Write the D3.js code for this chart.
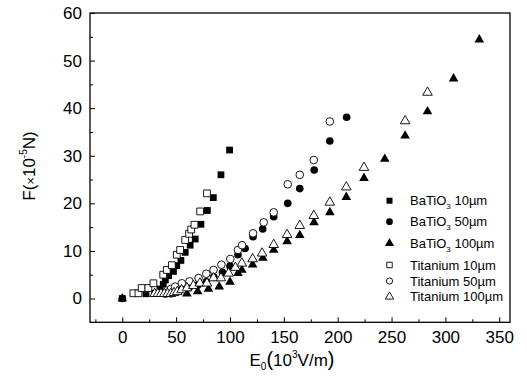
<!DOCTYPE html>
<html><head><meta charset="utf-8">
<script src="https://cdn.jsdelivr.net/npm/d3@7"></script>
<style>body{margin:0;background:#fff;} svg{display:block;font-family:Arial,"Liberation Sans",sans-serif;}</style>
</head><body>
<svg id="c" width="527" height="388"></svg>
<script>
// ---- data ----
const xMajorTicks = [0, 50, 100, 150, 200, 250, 300, 350];
const yMajorTicks = [0, 10, 20, 30, 40, 50, 60];

const ba10X = [0, 22, 30, 35, 38, 40, 43, 47.5, 50.6, 54.4, 58.4, 63, 67.7, 73, 79, 84.5, 91.6, 99.6];
const ba10F = [0, 1, 1.1, 2, 3, 3.9, 4.8, 5.7, 6.9, 8, 9.7, 11.2, 12.5, 15.6, 18.5, 21.2, 26, 31.2];

const ba50X = [0, 45, 55, 62, 70, 78, 85, 93, 100, 107.4, 114, 121.4, 130.4, 140.6, 153.6, 164.8, 178.2, 192.7, 208.3];
const ba50F = [0, 1, 2, 2.3, 2.8, 3.5, 4.5, 5.5, 6.8, 9.2, 10.5, 13, 14.6, 17.2, 20, 23.1, 27, 33.1, 38.1];

const ba100X = [0, 60, 70, 80, 90, 100, 107.4, 111, 121, 130.5, 140.6, 153, 164.8, 178, 192.7, 208, 224.4, 243.7, 262.6, 283.4, 307.6, 331.5];
const ba100F = [0, 1, 1.5, 2, 2.5, 3.5, 5.3, 6, 7.1, 8.5, 10.2, 12, 13.3, 16, 18.1, 21.3, 25.3, 29.3, 34.2, 39.3, 46.2, 54.4];

const ti10X = [10.3, 15, 18, 24.2, 28.9, 38, 41.3, 46, 50.6, 53.7, 58.4, 62, 64, 67, 72.3, 78.6];
const ti10F = [1.1, 1.1, 2.2, 2.2, 3.2, 5, 6, 7, 9.2, 10.2, 12.3, 13.6, 14.5, 15.5, 18.3, 22.1];

const ti50X = [40, 45, 49, 55.3, 62.4, 70.8, 78, 84.7, 92, 100.3, 107.4, 111.2, 121.4, 131.3, 140.6, 153.6, 164.8, 177.8, 192.7];
const ti50F = [1, 2, 2.5, 3.2, 3.6, 4.3, 5.2, 6, 7.1, 8.3, 10.2, 11.2, 13.7, 16, 18.1, 24, 26, 29.1, 37.2];

const ti100X = [30, 33, 36, 39, 42, 45, 48, 51, 55, 60, 66, 72, 78.6, 84.7, 91.6, 98.7, 105, 111, 121, 129.8, 140.6, 153, 164.8, 177.8, 192.7, 208, 224.4, 262.6, 283.4];
const ti100F = [1, 1, 1, 1, 1, 1, 1.2, 1.4, 1.8, 2.2, 2.7, 3.2, 3.2, 4.3, 4.3, 5.3, 6.5, 7.4, 8.3, 9.5, 11.3, 13.4, 15.3, 17.4, 20.2, 23.4, 27.5, 37.3, 43.3];

const seriesNames = ["BaTiO3 10µm", "BaTiO3 50µm", "BaTiO3 100µm", "Titanium 10µm", "Titanium 50µm", "Titanium 100µm"];

// ---- chart ----
const svg = d3.select("#c");
const x = d3.scaleLinear().domain([-30, 360]).range([90, 510]);
const y = d3.scaleLinear().domain([-5, 60]).range([322.3, 13]);

const series = [
  {xs: ba10X, fs: ba10F, shape: "square", filled: true},
  {xs: ba50X, fs: ba50F, shape: "circle", filled: true},
  {xs: ba100X, fs: ba100F, shape: "triangle", filled: true},
  {xs: ti10X, fs: ti10F, shape: "square", filled: false},
  {xs: ti50X, fs: ti50F, shape: "circle", filled: false},
  {xs: ti100X, fs: ti100F, shape: "triangle", filled: false}
];
const symType = {square: d3.symbolSquare, circle: d3.symbolCircle, triangle: d3.symbolTriangle};
const symSize = {square: 46, circle: 46, triangle: 40};

// axes (ticks inward)
const gx = svg.append("g").attr("transform", "translate(0,322.3)")
  .call(d3.axisBottom(x).tickValues(xMajorTicks).tickSizeInner(-5).tickSizeOuter(0).tickPadding(9));
const gxm = svg.append("g").attr("transform", "translate(0,322.3)")
  .call(d3.axisBottom(x).tickValues(d3.range(-25, 360, 50)).tickSizeInner(-3).tickSizeOuter(0).tickFormat(""));
const gy = svg.append("g").attr("transform", "translate(90,0)")
  .call(d3.axisLeft(y).tickValues(yMajorTicks).tickSizeInner(-5).tickSizeOuter(0).tickPadding(8));
const gym = svg.append("g").attr("transform", "translate(90,0)")
  .call(d3.axisLeft(y).tickValues(d3.range(5, 60, 10)).tickSizeInner(-3).tickSizeOuter(0).tickFormat(""));
[gx, gxm, gy, gym].forEach(g => {
  g.select(".domain").remove();
  g.selectAll("line").attr("stroke", "#000").attr("stroke-width", 1);
  g.selectAll("text").attr("font-size", 17).attr("fill", "#000").attr("font-family", "Arial, 'Liberation Sans', sans-serif");
});

// frame
svg.append("rect").attr("x", 90).attr("y", 13).attr("width", 420).attr("height", 309.3)
  .attr("fill", "none").attr("stroke", "#000").attr("stroke-width", 1.3);

// markers: filled first, open on top
const plot = svg.append("g");
series.forEach(s => {
  const pts = s.xs.map((v, i) => [v, s.fs[i]]);
  plot.append("g").selectAll("path").data(pts).enter().append("path")
    .attr("d", d3.symbol().type(symType[s.shape]).size(symSize[s.shape]))
    .attr("transform", d => `translate(${x(d[0])},${y(d[1])})`)
    .attr("fill", s.filled ? "#000" : "#fff")
    .attr("stroke", "#000").attr("stroke-width", s.filled ? 0 : 0.9);
});

// legend
const legY = [200.7, 221.7, 243.3, 265, 281, 296.7];
const leg = svg.append("g");
series.forEach((s, i) => {
  leg.append("path")
    .attr("d", d3.symbol().type(symType[s.shape]).size(s.filled ? 36 : 30))
    .attr("transform", `translate(389.5,${legY[i]})`)
    .attr("fill", s.filled ? "#000" : "#fff")
    .attr("stroke", "#000").attr("stroke-width", s.filled ? 0 : 0.9);
  const t = leg.append("text").attr("x", 410).attr("y", legY[i] + 4.5)
    .attr("font-size", 13).attr("fill", "#000");
  const name = seriesNames[i];
  if (name.startsWith("BaTiO3")) {
    t.append("tspan").text("BaTiO");
    t.append("tspan").attr("font-size", 8).attr("dy", 4).text("3");
    t.append("tspan").attr("dy", -4).text(name.slice(6));
  } else {
    t.text(name);
  }
});

// x axis title
const xt = svg.append("text").attr("x", 292).attr("y", 366).attr("text-anchor", "middle")
  .attr("font-size", 17).attr("fill", "#000");
xt.append("tspan").text("E");
xt.append("tspan").attr("font-size", 10).attr("dy", 4).text("0");
xt.append("tspan").attr("dy", -4).attr("font-size", 20).text("(");
xt.append("tspan").text("10");
xt.append("tspan").attr("font-size", 10).attr("dy", -8).text("3");
xt.append("tspan").attr("dy", 8).text("V/m");
xt.append("tspan").attr("font-size", 20).text(")");

// y axis title
const yt = svg.append("text").attr("transform", "translate(35,166) rotate(-90)")
  .attr("text-anchor", "middle").attr("font-size", 17).attr("fill", "#000");
yt.append("tspan").text("F(");
yt.append("tspan").attr("font-size", 13).text("×");
yt.append("tspan").text("10");
yt.append("tspan").attr("font-size", 10).attr("dy", -8).text("-5");
yt.append("tspan").attr("dy", 8).text("N)");
</script>
</body></html>
